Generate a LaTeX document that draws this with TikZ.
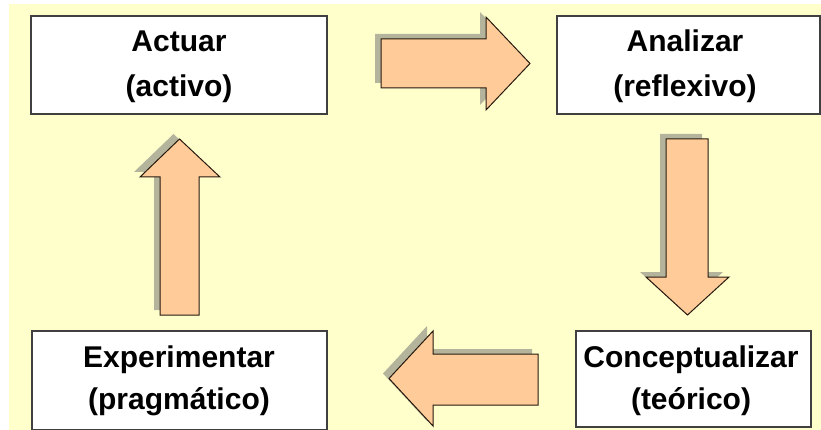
\documentclass[tikz,border=0pt]{standalone}
\usepackage{fontspec}
\setmainfont{Liberation Sans}
\definecolor{bgyellow}{HTML}{FFFFCC}
\definecolor{arrowfill}{HTML}{FFCC99}
\definecolor{shadowcol}{HTML}{B4B49C}
\definecolor{boxline}{HTML}{404040}
\newcommand\myshadowarrow[1]{%
  \fill[shadowcol,shift={(-6,-5)}] #1;
  \draw[blockarrow] #1;}
\begin{document}
\begin{tikzpicture}[x=1pt,y=-1pt,
  stagebox/.style={draw=boxline,line width=1.5pt,fill=white,inner sep=0pt},
  stagetext/.style={anchor=base,inner sep=0pt,font=\bfseries\fontsize{30}{36}\selectfont},
  blockarrow/.style={fill=arrowfill,draw=black!80!brown,line width=1pt,line join=miter}]
\useasboundingbox (0,0) rectangle (821,430);
\fill[white] (0,0) rectangle (821,430);
\fill[bgyellow] (9,4) rectangle (821,430);
% boxes
\node[stagebox,minimum width=296pt,minimum height=98pt] (actuar) at (179,65) {};
\node[stagebox,minimum width=263pt,minimum height=98pt] (analizar) at (688.5,65) {};
\node[stagebox,minimum width=295pt,minimum height=99pt] (experimentar) at (179.5,380.5) {};
\node[stagebox,minimum width=235pt,minimum height=96pt] (conceptualizar) at (693.5,379) {};
% texts
\node[stagetext] (t1a) at (179,52) {Actuar};
\node[stagetext] (t1b) at (179,97) {(activo)};
\node[stagetext] (t2a) at (685,52) {Analizar};
\node[stagetext] (t2b) at (685,97) {(reflexivo)};
\node[stagetext] (t3a) at (179,367) {Experimentar};
\node[stagetext] (t3b) at (179,409) {(pragmático)};
\node[stagetext] (t4a) at (691,367) {Conceptualizar};
\node[stagetext] (t4b) at (691,409) {(teórico)};
% block arrows
\myshadowarrow{(381,39) -- (486,39) -- (486,17) -- (530,63.5) -- (486,110) -- (486,88) -- (381,88) -- cycle}
\myshadowarrow{(666,139) -- (708,139) -- (708,277) -- (729,277) -- (687.5,315) -- (646,277) -- (666,277) -- cycle}
\myshadowarrow{(538,354) -- (433,354) -- (433,331) -- (389,378.5) -- (433,426) -- (433,405) -- (538,405) -- cycle}
\myshadowarrow{(160,315) -- (160,177) -- (140,177) -- (179.5,139) -- (220,177) -- (199,177) -- (199,315) -- cycle}
\end{tikzpicture}
\end{document}
